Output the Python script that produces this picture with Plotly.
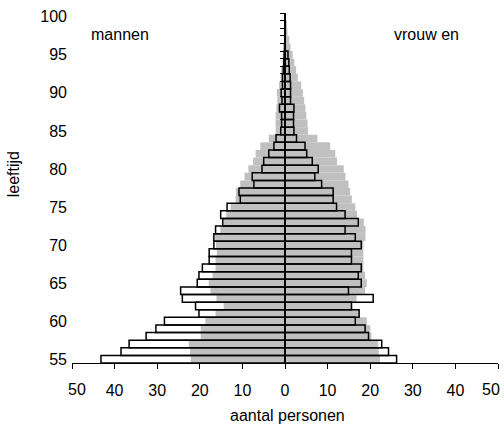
import plotly.graph_objects as go
import numpy as np

ages = list(range(55, 101))

men_white = [43.2, 38.5, 36.6, 32.6, 30.3, 28.3, 20.2, 21.0, 24.1, 24.5,
             20.6, 20.2, 19.4, 17.8, 17.8, 16.7, 16.7, 16.3, 14.6, 15.1,
             13.6, 10.5, 10.8, 7.3, 7.7, 5.4, 5.0, 3.8, 2.6, 2.1,
             1.0, 0.8, 0.8, 1.3, 0.7, 0.9, 0.6, 0.6, 0.4, 0.3,
             0.2, 0, 0, 0, 0, 0]
men_gray = [22.1, 22.3, 22.6, 19.8, 19.8, 18.7, 16.3, 14.4, 16.1, 17.5,
            17.9, 17.0, 16.3, 16.3, 16.0, 16.2, 16.4, 15.2, 14.4, 13.8,
            12.8, 11.6, 11.5, 10.5, 9.5, 8.6, 7.5, 6.9, 5.8, 3.8,
            2.2, 2.2, 2.2, 2.0, 1.8, 1.9, 1.4, 1.0, 0.9, 0.6,
            0.5, 0.3, 0.2, 0.1, 0, 0]
women_white = [26.2, 24.3, 22.7, 19.6, 18.8, 16.5, 17.4, 15.6, 20.7, 14.9,
               17.9, 17.2, 17.9, 15.6, 15.6, 17.9, 16.5, 14.1, 17.2, 14.1,
               12.1, 11.3, 11.3, 8.6, 7.0, 7.8, 6.4, 5.1, 4.7, 2.7,
               2.1, 2.0, 2.0, 2.1, 1.3, 1.3, 1.3, 1.2, 1.0, 0.9,
               0.7, 0, 0, 0, 0, 0]
women_gray = [22.3, 22.0, 21.9, 20.3, 20.0, 19.2, 17.6, 15.8, 16.8, 18.8,
              19.2, 18.8, 18.4, 18.4, 18.4, 18.4, 18.9, 18.9, 18.5, 16.9,
              16.5, 15.7, 15.3, 14.9, 14.2, 13.8, 12.2, 11.8, 10.6, 7.6,
              5.4, 5.3, 5.0, 4.8, 4.5, 4.2, 3.8, 3.0, 2.6, 2.2,
              1.8, 1.3, 1.0, 0.6, 0.3, 0]

x_ticks = list(range(-50, 51, 10))
x_ticktext = [str(abs(v)) for v in x_ticks]
y_ticks = list(range(55, 101, 5))

GRAY = "#c0c0c0"
FONT = "Liberation Sans, Arial, sans-serif"

fig = go.Figure()
fig.add_trace(go.Bar(y=ages, x=[-v for v in men_gray], orientation="h", width=1,
                     marker=dict(color=GRAY, line=dict(width=0)), showlegend=False))
fig.add_trace(go.Bar(y=ages, x=women_gray, orientation="h", width=1,
                     marker=dict(color=GRAY, line=dict(width=0)), showlegend=False))
fig.add_trace(go.Bar(y=ages, x=[-v for v in men_white], orientation="h", width=1, yaxis="y2",
                     marker=dict(color="rgba(0,0,0,0)", line=dict(color="black", width=1.5)),
                     showlegend=False))
fig.add_trace(go.Bar(y=ages, x=women_white, orientation="h", width=1, yaxis="y2",
                     marker=dict(color="rgba(0,0,0,0)", line=dict(color="black", width=1.5)),
                     showlegend=False))

# the outermost tick labels are kept inside the chart (as the reference does)
inner_text = [t if abs(v) < 50 else "" for v, t in zip(x_ticks, x_ticktext)]
edge_labels = [dict(text=t, xref="x", yref="paper", x=v, y=(362.7 - 389) / 350,
                    xshift=(5 if v < 0 else -7), xanchor="center", yanchor="middle",
                    showarrow=False)
               for v, t in zip(x_ticks, x_ticktext) if abs(v) == 50]

yr = [54.5, 100.5]
fig.update_layout(
    width=504, height=427,
    margin=dict(l=72, r=6, t=13, b=64, autoexpand=False),
    paper_bgcolor="white", plot_bgcolor="white",
    barmode="overlay",
    font=dict(family=FONT, size=16, color="black"),
    xaxis=dict(range=[-50, 50], tickvals=x_ticks, ticktext=inner_text,
               showline=True, linecolor="black", linewidth=1.3,
               ticks="outside", ticklen=5, tickwidth=1, tickcolor="black",
               ticklabelstandoff=8,
               showgrid=False, zeroline=False, fixedrange=True),
    yaxis=dict(range=yr, tickvals=y_ticks, ticks="", showline=False,
               showgrid=False, zeroline=False, ticklabelstandoff=4),
    yaxis2=dict(range=yr, overlaying="y", anchor="free", position=0.5, side="left",
                tickvals=list(np.arange(54.5, 101, 1.0)), showticklabels=False,
                ticks="outside", ticklen=4, tickwidth=1.3, tickcolor="black",
                showline=True, linecolor="black", linewidth=2,
                showgrid=False, zeroline=False),
    annotations=[
        dict(text="mannen", xref="paper", yref="paper", x=(120 - 72) / 426, y=(362.7 - 34) / 350,
             xanchor="center", yanchor="middle", showarrow=False),
        dict(text="vrouw en", xref="paper", yref="paper", x=(426 - 72) / 426, y=(362.7 - 34) / 350,
             xanchor="center", yanchor="middle", showarrow=False),
        dict(text="aantal personen", xref="paper", yref="paper", x=(287 - 72) / 426, y=(362.7 - 415) / 350,
             xanchor="center", yanchor="middle", showarrow=False),
        dict(text="leeftijd", xref="paper", yref="paper", x=(13 - 72) / 426, y=(362.7 - 174) / 350,
             xanchor="center", yanchor="middle", textangle=-90, showarrow=False),
    ] + edge_labels,
)

fig.write_html("out.html", config={"displayModeBar": False},
               post_script="document.body.style.margin='0';")
